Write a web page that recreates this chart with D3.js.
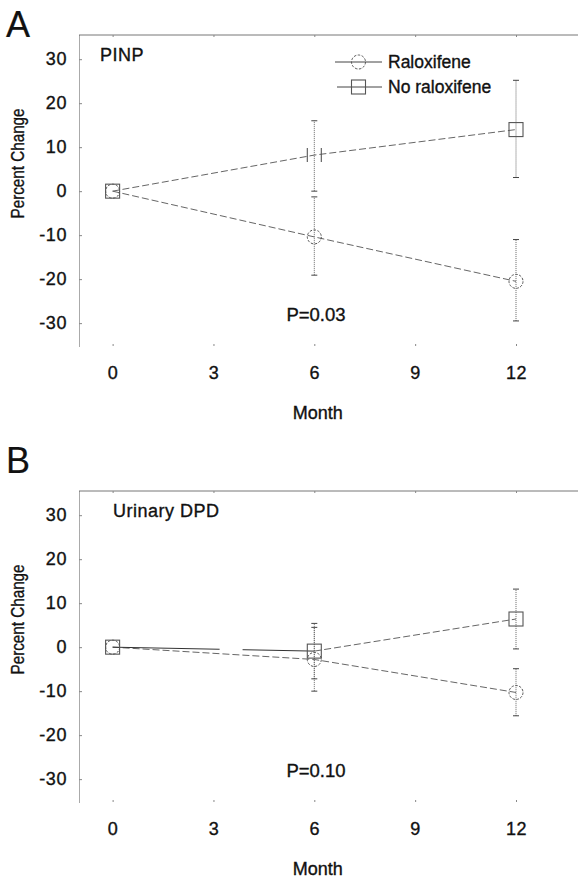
<!DOCTYPE html>
<html>
<head>
<meta charset="utf-8">
<script src="https://cdn.jsdelivr.net/npm/d3@7"></script>
<style>
  body { margin: 0; background: #fff; }
  svg text { font-family: 'Liberation Sans', Arial, sans-serif; fill: #111; stroke: #111; stroke-width: 0.35px; }
</style>
</head>
<body>
<div id="grafica"></div>
<script>
// datos
months  = [0, 6, 12]
xTicks  = [0, 3, 6, 9, 12]
yTicks  = [30, 20, 10, 0, -10, -20, -30]
series  = ['Raloxifene', 'No raloxifene']

pinpRalox     = [0, -10.4, -20.5]
pinpRaloxLo   = [0, -19.1, -29.5]
pinpRaloxHi   = [0, -1.3, -11.0]
pinpNoRalox   = [0, 8.2, 14.0]
pinpNoRaloxLo = [0, 0.0, 3.1]
pinpNoRaloxHi = [0, 16.0, 25.2]

dpdRalox      = [0, -2.8, -10.3]
dpdRaloxLo    = [0, -10.0, -15.6]
dpdRaloxHi    = [0, 4.5, -4.9]
dpdNoRalox    = [0, -0.9, 6.4]
dpdNoRaloxLo  = [0, -7.2, -0.4]
dpdNoRaloxHi  = [0, 5.4, 13.2]

paneles = [
  { letra: 'A', titulo: 'PINP', p: 'P=0.03', leyenda: true,
    ralox: [pinpRalox, pinpRaloxLo, pinpRaloxHi],
    noralox: [pinpNoRalox, pinpNoRaloxLo, pinpNoRaloxHi] },
  { letra: 'B', titulo: 'Urinary DPD', p: 'P=0.10', leyenda: false,
    ralox: [dpdRalox, dpdRaloxLo, dpdRaloxHi],
    noralox: [dpdNoRalox, dpdNoRaloxLo, dpdNoRaloxHi] }
]

ancho_total = 578
alto_total  = 878
desp_panel  = 456

svg = d3.select('#grafica')
        .append('svg')
        .attr('width', ancho_total)
        .attr('height', alto_total)

x = d3.scaleLinear().domain([-1, 12]).range([79, 516])
y = d3.scaleLinear().domain([-35.2, 35.5]).range([346, 35])

function marcador(sel, tipo, cx, cy, sinBordes) {
  if (tipo == 'circle') {
    sel.append('circle')
      .attr('cx', cx).attr('cy', cy).attr('r', 7)
      .attr('fill', 'none').attr('stroke', '#555')
      .attr('stroke-dasharray', '2.5,1.5')
  } else {
    r = sel.append('rect')
      .attr('x', cx - 7).attr('y', cy - 7)
      .attr('width', 14).attr('height', 14)
      .attr('fill', 'none').attr('stroke', '#555').attr('stroke-width', 1.1)
    // en la figura original el cuadrado de A, mes 6, solo muestra los lados
    if (sinBordes) r.attr('stroke-dasharray', '0,14,14,14,14')
  }
}

function errores(g, datos) {
  datos[0].forEach((v, i) => {
    lo = datos[1][i]; hi = datos[2][i]
    if (lo == hi) return
    g.append('line')
      .attr('x1', x(months[i])).attr('x2', x(months[i]))
      .attr('y1', y(lo)).attr('y2', y(hi))
      .attr('stroke', '#666').attr('stroke-dasharray', '1,1')
    ;[lo, hi].forEach((c) => {
      g.append('line')
        .attr('x1', x(months[i]) - 3).attr('x2', x(months[i]) + 3)
        .attr('y1', y(c)).attr('y2', y(c))
        .attr('stroke', '#444')
    })
  })
}

paneles.forEach((p, k) => {
  g = svg.append('g').attr('transform', `translate(0, ${k * desp_panel})`)

  svg.append('text')
    .attr('x', 6)
    .attr('y', k == 0 ? 37 : 473)
    .attr('font-size', '36px')
    .style('stroke-width', '0.2px')
    .text(p.letra)

  // marco superior
  g.append('line')
    .attr('x1', x(-1)).attr('x2', ancho_total)
    .attr('y1', y.range()[1]).attr('y2', y.range()[1])
    .attr('stroke', '#777')
  g.append('g')
    .attr('transform', `translate(0, ${y.range()[1]})`)
    .call(d3.axisTop(x).tickValues(xTicks).tickSize(-2).tickFormat(''))
    .call((s) => s.select('.domain').remove())
    .selectAll('line').attr('stroke', '#888')

  yAxis = g.append('g')
    .attr('transform', `translate(${x(-1)}, 0)`)
    .call(d3.axisLeft(y).tickValues(yTicks).tickSize(-3).tickSizeOuter(0).tickPadding(12)
            .tickFormat((d) => String(d)))
  yAxis.select('.domain').attr('stroke', '#555').attr('stroke-dasharray', '1,1')
  yAxis.selectAll('line').attr('stroke', '#888')
  yAxis.selectAll('text').attr('font-size', '18px').attr('font-family', null)
    .attr('letter-spacing', '0.6px')

  xAxis = g.append('g')
    .attr('transform', `translate(0, ${y.range()[0]})`)
    .call(d3.axisBottom(x).tickValues(xTicks).tickSize(-2).tickPadding(20))
  xAxis.select('.domain').remove()
  xAxis.selectAll('line').attr('stroke', '#888')
  xAxis.selectAll('text').attr('font-size', '18px').attr('font-family', null)
    .attr('letter-spacing', '0.6px')

  g.append('text')
    .attr('transform', `translate(24, ${y(6.3)}) rotate(-90)`)
    .attr('text-anchor', 'middle')
    .attr('font-size', '17.5px')
    .attr('textLength', 110)
    .attr('lengthAdjust', 'spacingAndGlyphs')
    .text('Percent Change')

  g.append('text')
    .attr('x', x(6.1))
    .attr('y', 419)
    .attr('text-anchor', 'middle')
    .attr('font-size', '18px')
    .text('Month')

  g.append('text')
    .attr('x', k == 0 ? 100 : 113)
    .attr('y', y(29.5))
    .attr('font-size', '18px')
    .attr('letter-spacing', '0.5px')
    .text(p.titulo)

  g.append('text')
    .attr('x', x(6.05))
    .attr('y', y(-29.5))
    .attr('text-anchor', 'middle')
    .attr('font-size', '18.5px')
    .text(p.p)

  errores(g, p.ralox)
  errores(g, p.noralox)

  linea = d3.line().x((d, i) => x(months[i])).y((d) => y(d))

  g.append('path')
    .datum(p.ralox[0])
    .attr('d', linea)
    .attr('fill', 'none').attr('stroke', '#666')
    .attr('stroke-dasharray', '7,3')

  if (k == 0) {
    g.append('path')
      .datum(p.noralox[0])
      .attr('d', linea)
      .attr('fill', 'none').attr('stroke', '#666')
      .attr('stroke-dasharray', '7,3')
  } else {
    // en B el primer tramo sale casi continuo, con un hueco
    g.append('path')
      .datum(p.noralox[0].slice(0, 2))
      .attr('d', linea)
      .attr('fill', 'none').attr('stroke', '#333')
      .attr('stroke-dasharray', '107,23,300')
    g.append('path')
      .datum(p.noralox[0].slice(1))
      .attr('d', (d) => d3.line().x((v, i) => x(months[i + 1])).y((v) => y(v))(d))
      .attr('fill', 'none').attr('stroke', '#666')
      .attr('stroke-dasharray', '7,3')
  }

  months.forEach((m, i) => {
    marcador(g, 'circle', x(m), y(p.ralox[0][i]))
    marcador(g, 'rect', x(m), y(p.noralox[0][i]), k == 0 && m == 6)
  })

  if (p.leyenda) {
    ley = g.append('g')
    ;[['circle', 62, 335], ['rect', 87, 337]].forEach((r, i) => {
      ley.append('line')
        .attr('x1', r[2]).attr('x2', 382)
        .attr('y1', r[1]).attr('y2', r[1])
        .attr('stroke', '#444')
      marcador(ley, r[0], 358.5, r[1])
      ley.append('text')
        .attr('x', 388)
        .attr('y', r[1] + 6)
        .attr('font-size', '17.5px')
        .text(series[i])
    })
  }
})
</script>
</body>
</html>
